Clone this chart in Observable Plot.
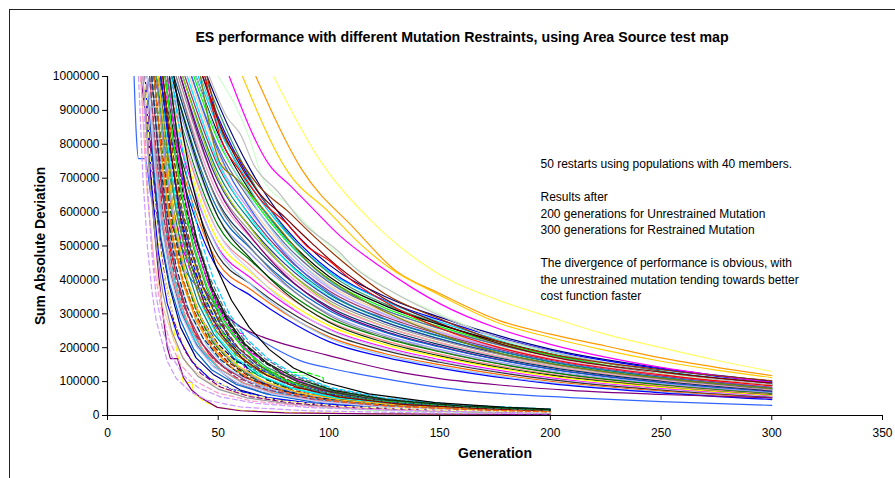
<!DOCTYPE html>
<html><head><meta charset="utf-8">
<script src="https://cdn.jsdelivr.net/npm/d3@7"></script>
<script src="https://cdn.jsdelivr.net/npm/@observablehq/plot@0.6"></script>
<style>
html,body{margin:0;padding:0;background:#fff;overflow:hidden;}
#wrap{position:relative;width:895px;height:478px;overflow:hidden;}
#wrap svg{position:absolute;left:0;top:0;}
#frame{position:absolute;left:9px;top:9px;width:1000px;height:1000px;border-left:1.5px solid #222;border-top:1.5px solid #222;pointer-events:none;}
</style></head><body><div id="wrap"><div id="frame"></div></div>
<script>
// ---------- text ----------
const title = "ES performance with different Mutation Restraints, using Area Source test map";
const xTitle = "Generation";
const yTitle = "Sum Absolute Deviation";
const noteLines = [
  "50 restarts using populations with 40 members.",
  "",
  "Results after",
  "200 generations for Unrestrained Mutation",
  "300 generations for Restrained Mutation",
  "",
  "The divergence of performance is obvious, with",
  "the unrestrained mutation tending towards better",
  "cost function faster"
];
const xTicks = [0, 50, 100, 150, 200, 250, 300, 350];
const yTicks = [0, 100000, 200000, 300000, 400000, 500000, 600000, 700000, 800000, 900000, 1000000];

// ---------- restrained mutation (300 generations), values in thousands ----------
// individually read runs: [generation, value, generation, value, ...]
const slowRuns = [
  [75,1000, 96,752, 119,575, 147,428, 177,339, 200,290, 222,245, 250,200, 275,163, 300,130],
  [67,1000, 88,723, 111,555, 130,428, 150,360, 177,280, 200,240, 225,205, 250,170, 275,142, 300,118],
  [61,1000, 81,723, 100,600, 114,507, 127,437, 150,355, 177,272, 200,230, 225,192, 250,160, 275,134, 300,112],
  [55,1000, 73,740, 83,675, 93.5,605, 105,530, 123,440, 138,375, 150,330, 177,255, 200,210, 225,172, 250,142, 275,118, 300,97],
  [50,1000, 64,820, 70,700, 81,625, 96,525, 111,440, 130,360, 150,300, 177,225, 200,185, 250,125, 300,88],
  [46,1000, 54,880, 60,830, 66,740, 77,660, 88,570, 105,480, 111,440, 130,360, 150,295, 177,228, 200,190, 250,128, 300,92],
  [45,1000, 51,850, 60,752, 69,672, 81,605, 93,530, 106,455, 125,360, 150,285, 177,218, 200,182, 250,135, 300,103],
  [43,1000, 50,870, 58,760, 68,660, 80,585, 92,510, 103,445, 125,345, 150,272, 177,212, 200,174, 250,128, 300,96],
  [44,1000, 51,820, 60,720, 70,630, 81,566, 90,500, 100,457, 110,400, 130,318, 150,258, 177,200, 200,166, 250,120, 300,88],
  [42,1000, 51,743, 58,700, 66,643, 74,580, 81,525, 91,450, 110,360, 130,292, 150,240, 177,184, 200,154, 250,110, 300,80],
  [12,1000, 13,830, 14,758, 17,758, 19.4,655, 24,560, 30,480, 38,400, 45.6,339, 55,285, 64.5,242, 75,200, 87,162, 100,140, 109.6,127, 130,103, 150,83, 177,65, 209,53, 250,41, 300,30],
  [15,1000, 18,850, 22,720, 27,600, 33,500, 38,440, 42,389, 50,320, 60,262, 70,232, 79,212, 95,185, 110,160, 130,130, 150,109, 177,90, 209,74, 250,62, 300,52]
];
const slowColors = ["#FFFF66","#FF9900","#FFCC00","#FF00FF","#CCFFCC","#C0C0C0","#993300","#800000","#FF0000","#808000","#3366FF","#800080"];

// bundle of restrained runs: entry generation (top of axis) and values at bulkGens
const bulkGens = [50, 65, 80, 100, 125, 150, 200, 250, 300];
const bulkEntry = [45,43,41,44,40,39,42,38,37,40,36,35,38,34,36,33,32,34,31,30,33,29,28,31,27,26,29,25,24,27,23,22,25,21];
const bulkValues = [
  [920,720,575,445,352,290,196,140,101],
  [880,690,555,430,340,282,192,137,98],
  [850,675,545,425,338,276,186,131,94],
  [900,695,550,420,330,270,183,130,93],
  [830,655,530,410,325,268,182,129,92],
  [810,645,520,402,318,262,178,126,90],
  [860,660,525,398,312,256,174,123,88],
  [790,630,508,393,312,257,175,124,89],
  [770,612,495,385,305,250,170,121,86],
  [820,635,500,380,300,246,167,118,85],
  [750,598,484,376,298,245,167,119,85],
  [735,585,472,368,292,240,163,116,83],
  [780,605,478,362,286,235,160,113,81],
  [715,570,462,358,284,233,158,112,80],
  [745,580,460,350,277,227,154,109,78],
  [690,552,448,348,276,226,153,108,77],
  [670,538,436,340,270,222,151,107,76],
  [700,550,437,333,263,215,146,103,73],
  [650,522,424,330,262,215,146,104,74],
  [630,508,412,321,255,209,142,101,72],
  [668,525,416,316,249,204,138,98,70],
  [605,490,398,310,246,202,137,97,69],
  [585,475,386,300,238,195,132,94,67],
  [625,492,390,296,233,190,128,91,65],
  [560,455,371,288,229,188,127,90,64],
  [540,440,358,278,221,181,122,87,62],
  [585,460,364,275,216,176,119,84,60],
  [515,420,342,265,210,172,116,83,59],
  [495,404,330,255,202,165,111,79,56],
  [540,425,336,253,198,161,108,77,55],
  [470,386,315,243,192,157,106,75,53],
  [450,370,302,232,183,150,101,72,51],
  [490,385,305,228,178,145,97,69,49],
  [430,352,287,218,172,140,94,67,47]
];
const bulkColors = ["#000080","#0000FF","#00CCFF","#339966","#000000","#00FF00","#33CCCC","#666699","#FFCC99","#99CCFF","#CC99FF","#993366","#3366FF","#008080","#00FFFF","#333399","#969696","#99CC00","#FF99CC","#003366","#800080","#0066CC","#9999FF","#808080","#008000","#FF8080","#003300","#FFFF00","#FF00FF","#CCCCFF","#333333","#FF6600","#99CCFF","#0000FF"];

// ---------- unrestrained mutation (200 generations), values in thousands ----------
const fastRuns = [
  [18,1000, 21,700, 24,520, 28,380, 33,260, 40,170, 48,120, 60,75, 75,48, 100,30, 130,18, 165,11, 200,8],
  [22,1000, 26,760, 30,600, 35,470, 41,360, 47.8,265, 55.5,265, 58.6,242, 61.3,242, 61.8,142, 66,110, 75,80, 90,55, 110,35, 140,20, 170,13, 200,9],
  [16,1000, 19,720, 22,540, 25.5,420, 28.4,339, 31,200, 34.3,97, 38.3,97, 38.8,65, 44,40, 49.6,24, 60,15, 80,9, 110,6, 150,4, 200,3],
  [17,1000, 19,760, 21,560, 23,420, 25,300, 27,200, 28.4,168, 31.6,168, 34.3,112, 38,75, 42,53, 49.6,24, 60,14, 80,8, 120,5, 160,4, 200,3],
  [25,1000, 29,780, 33,620, 38,480, 43,380, 47.8,319, 52,242, 57,200, 59,133, 64.5,127, 90,127, 97.4,112, 98.3,50, 110,38, 130,25, 160,15, 200,10],
  [20,1000, 24,700, 28,500, 33,360, 39,250, 46,180, 55,130, 65,105, 72,92, 78,85, 108,68, 108.5,24, 130,17, 160,12, 200,9],
  [23,1000, 27,720, 31,540, 36,400, 42,290, 50,200, 60,140, 72,95, 85,70, 93,50, 115,47, 117,24, 140,20, 163,18],
  [21,1000, 25,730, 29,540, 34,400, 40,290, 48,210, 56,160, 64.5,124, 90,118, 94.7,74, 96,24, 120,16, 150,11, 200,7],
  [19,1000, 23,860, 28,700, 33,600, 38,540, 42,487, 47.8,348, 49.6,339, 55,280, 62,200, 70,140, 80,100, 95,65, 115,40, 140,25, 170,16, 200,11],
  [24,1000, 28,820, 33,650, 38,560, 42,480, 45,420, 50,300, 56,210, 63,150, 72,105, 85,70, 105,45, 130,28, 165,17, 200,12],
  [17,1000, 20,680, 23,480, 27,330, 32,230, 38,160, 46,110, 56,78, 70,55, 90,38, 120,24, 160,15, 200,10],
  [19,1000, 22,740, 25,560, 29,420, 34,300, 41,200, 50,140, 62,95, 78,65, 100,42, 135,25, 170,16, 200,12],
  [15,1000, 18,650, 21,460, 25,320, 30,220, 36,150, 45,100, 57,68, 75,45, 100,28, 140,16, 200,9],
  [14,1000, 16,700, 18,500, 20,370, 22,280, 24.5,220, 27,160, 31,110, 37,72, 45,45, 60,25, 90,14, 140,8, 200,5],
  [20,1000, 24,740, 28,560, 33,420, 39,310, 46,220, 54,160, 64,115, 76,85, 95,58, 125,35, 165,20, 200,13],
  [22,1000, 26,780, 30,600, 35,450, 41,330, 48,240, 57,170, 68,118, 82,82, 100,55, 130,33, 165,20, 200,13],
  [26,1000, 30,820, 34,660, 39,520, 45,400, 52,300, 60,220, 70,160, 80,120, 95,80, 115,50, 145,30, 175,19, 200,14],
  [21,1000, 25,720, 29,530, 34,390, 40,280, 47,200, 56,140, 67,98, 82,66, 100,45, 130,27, 170,16, 200,11],
  [18,1000, 21,760, 24,580, 28,430, 33,310, 39,220, 47,150, 57,100, 70,68, 90,44, 120,27, 160,16, 200,10],
  [23,1000, 27,800, 31,630, 36,480, 42,360, 49,260, 57,190, 67,135, 80,95, 98,62, 125,38, 160,23, 200,14],
  [20,1000, 23,760, 27,560, 31,420, 36,300, 43,210, 51,150, 62,105, 76,72, 95,48, 125,29, 165,17, 200,11],
  [27,1000, 31,800, 35,640, 40,500, 46,380, 53,280, 61,205, 66,180, 70,165, 80,120, 95,80, 115,52, 145,31, 180,19, 200,15],
  [24,1000, 28,760, 32,580, 37,440, 43,320, 50,230, 59,165, 70,115, 84,80, 103,52, 130,32, 165,20, 200,13],
  [25,1000, 29,780, 33,610, 38,470, 44,350, 51,255, 60,180, 71,125, 85,86, 104,57, 132,35, 168,21, 200,14],
  [21,1000, 24,800, 28,620, 32,480, 37,370, 43,280, 50,210, 58,160, 62,150, 66,110, 75,80, 90,55, 110,37, 140,23, 175,14, 200,11],
  [16,1000, 19,700, 22,500, 25,360, 29,250, 34,170, 41,115, 50,78, 63,52, 82,34, 110,21, 150,13, 200,8],
  [19,1000, 22,760, 26,560, 30,410, 35,290, 42,200, 50,140, 61,96, 75,66, 95,43, 125,26, 165,15, 200,10],
  [22,1000, 26,740, 30,560, 35,410, 41,300, 48,215, 57,150, 68,105, 83,72, 103,48, 133,29, 170,18, 200,12],
  [24,1000, 28,800, 32,640, 37,500, 43,380, 50,280, 58,205, 68,148, 81,104, 99,70, 125,44, 160,27, 200,17],
  [26,1000, 30,790, 34,630, 39,490, 45,370, 52,275, 61,200, 72,142, 86,100, 105,67, 132,42, 168,25, 200,17],
  [17,1000, 20,740, 23,540, 26,400, 30,280, 35,190, 42,125, 51,84, 64,56, 83,37, 112,23, 155,14, 200,9],
  [15,1000, 17,760, 19,580, 21,440, 24,320, 28,220, 33,150, 40,100, 50,66, 65,43, 90,27, 130,16, 200,9],
  [20,1000, 24,740, 28,540, 32,400, 38,290, 45,205, 53,145, 64,100, 78,68, 98,45, 128,28, 165,17, 200,11],
  [23,1000, 27,780, 31,600, 36,460, 42,340, 49,250, 58,180, 69,128, 83,90, 102,60, 130,37, 165,22, 200,14],
  [18,1000, 21,720, 24,530, 28,390, 33,280, 39,195, 47,135, 58,92, 72,63, 92,41, 122,25, 162,15, 200,10],
  [25,1000, 29,800, 33,630, 38,490, 44,370, 51,275, 59,200, 70,142, 84,98, 103,65, 131,40, 168,24, 200,16],
  [21,1000, 25,760, 29,580, 34,430, 40,310, 47,220, 56,155, 66,110, 80,75, 100,49, 130,30, 168,18, 200,12],
  [19,1000, 22,730, 26,530, 30,390, 36,280, 43,195, 51,137, 62,94, 77,63, 97,41, 127,25, 166,15, 200,10],
  [28,1000, 32,800, 36,640, 41,500, 47,380, 54,285, 62,210, 72,155, 76,140, 78,125, 86,100, 100,72, 120,48, 150,29, 185,18, 200,15],
  [22,1000, 26,760, 30,570, 35,420, 41,305, 48,218, 57,153, 68,106, 82,72, 102,47, 132,29, 170,17, 200,12],
  [16,1000, 18,680, 20,480, 22,350, 25,250, 29,175, 34,120, 41,82, 51,55, 67,36, 92,23, 135,14, 200,8],
  [26,1000, 30,800, 34,640, 39,500, 45,380, 52,285, 60,210, 69,150, 80,105, 96,70, 120,45, 155,27, 200,16],
  [20,1000, 23,780, 27,590, 31,440, 36,320, 43,230, 51,165, 61,117, 75,80, 94,53, 123,33, 162,20, 200,13],
  [23,1000, 27,740, 31,550, 36,400, 42,290, 50,205, 59,145, 71,100, 86,68, 106,45, 136,28, 172,17, 200,12],
  [27,1000, 31,820, 35,670, 40,530, 46,410, 53,310, 61,230, 71,168, 84,118, 100,80, 125,50, 160,30, 200,18],
  [18,1000, 21,760, 24,570, 28,420, 33,300, 40,205, 48,142, 59,96, 74,64, 95,41, 125,25, 165,15, 200,10],
  [24,1000, 28,790, 32,620, 37,480, 43,360, 50,265, 59,190, 69,136, 82,96, 100,64, 127,40, 163,24, 200,15],
  [25,1000, 29,760, 33,580, 38,440, 44,325, 52,235, 61,168, 72,118, 86,82, 105,54, 133,33, 170,20, 200,13],
  [17,1000, 19,780, 22,580, 25,430, 29,310, 34,215, 40,150, 49,100, 61,66, 79,43, 106,27, 150,16, 200,10],
  [29,1000, 33,820, 37,660, 42,520, 48,400, 55,300, 63,225, 73,165, 85,120, 101,82, 124,53, 158,32, 200,19],
  [30,1000, 34,830, 38,690, 43,560, 49,440, 56,340, 64,260, 73,195, 84,140, 98,98, 118,64, 148,38, 180,24, 200,19],
  [22,1000, 26,800, 30,640, 35,500, 41,380, 48,285, 56,210, 66,150, 79,104, 97,68, 125,42, 162,25, 200,15],
  [19,1000, 22,780, 25,600, 29,450, 34,330, 40,235, 48,165, 58,113, 72,76, 92,49, 122,30, 162,18, 200,11],
  [28,1000, 32,800, 36,640, 41,500, 47,380, 54,285, 62,212, 72,155, 85,110, 102,74, 126,47, 160,28, 200,17],
  [21,1000, 25,740, 29,550, 34,400, 40,290, 47,205, 56,142, 67,98, 82,66, 102,43, 132,26, 170,16, 200,11]
];
const fastColors = ["#000080","#FF00FF","#FFFF00","#800080","#00FF00","#FF0000","#99CC00","#99FF99","#339966","#003300",
  "#0000FF","#00CCFF","#FFCC99","#CC99FF","#800000","#008080","#000000","#FF9900","#666699","#3366FF",
  "#993366","#FF00FF","#00FFFF","#FFFF00","#000080","#969696","#33CCCC","#FF6600","#333399","#339966",
  "#800080","#FF99CC","#99CCFF","#808000","#0066CC","#993300","#008000","#FF8080","#333333","#9999FF",
  "#CC99FF","#00FF00","#003366","#FFCC00","#666699","#CCCCFF","#0000FF","#800000","#FFFF99","#00CCFF",
  "#000000","#339966","#993366","#003300","#FF6600"];
const fastDashed = [0,1,1,0,1,0,0,0,1,1, 0,0,0,1,1,0,1,0,0,1, 0,0,0,0,1,0,0,0,0,0, 1,1,0,0,0,1,1,0,0,0, 1,0,1,0,1,0,1,0,1,1, 0,1,1,0,1];

// ---------- build ----------
const toPts = arr => d3.range(0, arr.length, 2).map(i => ({g: arr[i], v: arr[i + 1] * 1000}));
const marks = [];
const lineMark = (pts, color, dashed, curve) => Plot.line(pts, {
  x: "g", y: "v", stroke: color, strokeWidth: 1.2,
  strokeDasharray: dashed ? "5,3" : undefined, curve, clip: true
});

bulkValues.forEach((vals, i) => {
  const pts = [{g: bulkEntry[i], v: 1000000}].concat(bulkGens.map((g, j) => ({g, v: vals[j] * 1000})));
  marks.push(lineMark(pts, bulkColors[i % bulkColors.length], false, "monotone-x"));
});
slowRuns.forEach((r, i) => marks.push(lineMark(toPts(r), slowColors[i], false, "monotone-x")));
fastRuns.forEach((r, i) => marks.push(lineMark(toPts(r), fastColors[i], fastDashed[i] === 1, "linear")));

const font = "'Liberation Sans', Arial, sans-serif";
const chart = Plot.plot({
  width: 895, height: 478,
  marginLeft: 107, marginRight: 13, marginTop: 76, marginBottom: 63,
  style: {fontFamily: font, fontSize: "12px", background: "transparent", color: "#000"},
  x: {domain: [0, 350]},
  y: {domain: [0, 1000000]},
  marks: [
    ...marks,
    Plot.ruleY([0], {stroke: "#000", strokeWidth: 1.2}),
    Plot.ruleX([0], {stroke: "#000", strokeWidth: 1.2}),
    Plot.axisX({ticks: xTicks, tickSize: 5, tickPadding: 8, label: null, tickFormat: d3.format("d")}),
    Plot.axisY({ticks: yTicks, tickSize: 5, tickPadding: 3, label: null, tickFormat: d3.format("d")}),
    Plot.text([title], {frameAnchor: "top", textAnchor: "middle", lineAnchor: "middle", dx: -33, dy: -39, fontWeight: "bold", fontSize: 14.2}),
    Plot.text([xTitle], {frameAnchor: "bottom", textAnchor: "middle", lineAnchor: "middle", dy: 38, fontWeight: "bold", fontSize: 14}),
    Plot.text([yTitle], {frameAnchor: "left", textAnchor: "middle", lineAnchor: "middle", rotate: -90, dx: -67, fontWeight: "bold", fontSize: 13.8}),
    Plot.text([noteLines.join("\n")], {frameAnchor: "top-left", textAnchor: "start", lineAnchor: "top", lineHeight: 1.375, dx: 433, dy: 80, fontSize: 12})
  ]
});
document.getElementById("wrap").appendChild(chart);
</script></body></html>
